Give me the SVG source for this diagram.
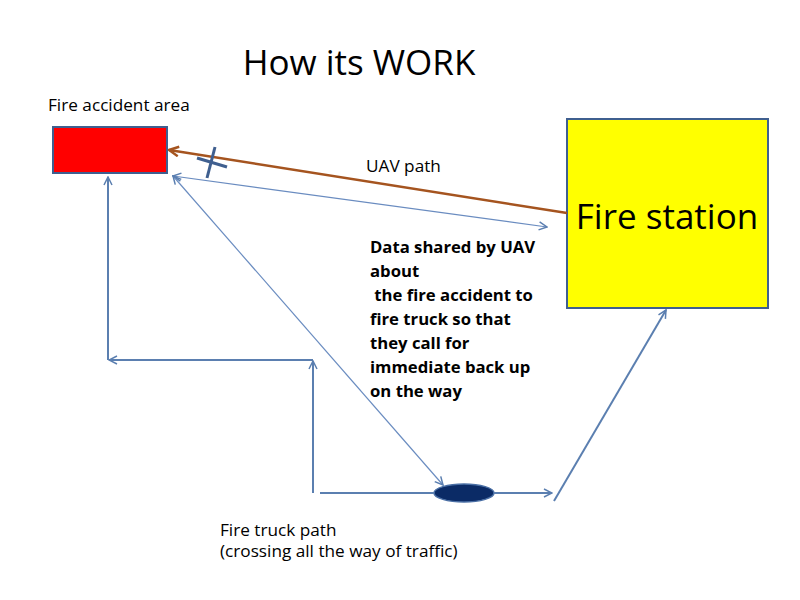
<svg xmlns="http://www.w3.org/2000/svg" width="800" height="600" viewBox="0 0 800 600">
<defs>
<style>
text{font-family:"Open Sans","Liberation Sans",sans-serif;fill:#000}
.t{font-size:17.2px}
.b{font-size:16.7px;font-weight:bold}
.thin{stroke:#6a8cc0;stroke-width:1.2;fill:none}
.path{stroke:#5b7fb0;stroke-width:2;fill:none}
</style>
<marker id="ah" viewBox="0 0 10 10" refX="9" refY="5" markerWidth="10" markerHeight="10" markerUnits="userSpaceOnUse" orient="auto-start-reverse">
<path d="M1,1 L9,5 L1,9" fill="none" stroke="#5b7fb0" stroke-width="1.5"/>
</marker>
<marker id="ahb" viewBox="0 0 10 10" refX="9" refY="5" markerWidth="12" markerHeight="12" markerUnits="userSpaceOnUse" orient="auto">
<path d="M1,1 L9,5 L1,9" fill="none" stroke="#a5541f" stroke-width="2"/>
</marker>
</defs>
<rect width="800" height="600" fill="#fff"/>
<text x="359" y="75" text-anchor="middle" style="font-size:35px">How its WORK</text>
<g id="fire-accident-area">
<rect x="53" y="127" width="114" height="46" fill="#ff0000" stroke="#3f5f8f" stroke-width="2"/>
<text class="t" x="48" y="111">Fire accident area</text>
</g>
<g id="fire-station">
<rect x="567" y="119" width="201" height="189" fill="#ffff00" stroke="#3f5f8f" stroke-width="2"/>
<text x="667" y="229" text-anchor="middle" style="font-size:35px">Fire station</text>
</g>
<g id="fire-truck">
<ellipse cx="464" cy="493" rx="30" ry="9" fill="#0b2b66" stroke="#4a6fa5" stroke-width="1.5"/>
</g>
<g id="connectors">
<line x1="567" y1="213" x2="169" y2="150" stroke="#a5541f" stroke-width="2.5" marker-end="url(#ahb)"/>
<line x1="215" y1="147" x2="207" y2="178" stroke="#3f5f8f" stroke-width="3"/>
<line x1="197" y1="158" x2="227" y2="167" stroke="#3f5f8f" stroke-width="3"/>
<line class="thin" x1="173" y1="176" x2="547" y2="227" marker-start="url(#ah)" marker-end="url(#ah)"/>
<line class="thin" x1="173" y1="176" x2="443" y2="485" marker-start="url(#ah)" marker-end="url(#ah)"/>
<line class="path" x1="108" y1="360" x2="108" y2="177" marker-end="url(#ah)"/>
<line class="path" x1="313" y1="360" x2="109" y2="360" marker-end="url(#ah)"/>
<line class="path" x1="313" y1="493" x2="313" y2="361" marker-end="url(#ah)"/>
<line class="path" x1="320" y1="493" x2="434" y2="493"/>
<line class="path" x1="494" y1="493" x2="552" y2="493" marker-end="url(#ah)"/>
<line class="path" x1="554" y1="501" x2="666" y2="310" marker-end="url(#ah)"/>
</g>
<g id="labels">
<text class="t" x="366" y="172">UAV path</text>
<text class="b" x="370" xml:space="preserve"><tspan x="370" y="253">Data shared by UAV</tspan><tspan x="370" y="277">about</tspan><tspan x="370" y="301"> the fire accident to</tspan><tspan x="370" y="325">fire truck so that</tspan><tspan x="370" y="349">they call for</tspan><tspan x="370" y="373">immediate back up</tspan><tspan x="370" y="397">on the way</tspan></text>
<text class="t" x="220" y="536">Fire truck path</text>
<text class="t" x="220" y="557">(crossing all the way of traffic)</text>
</g>
</svg>
